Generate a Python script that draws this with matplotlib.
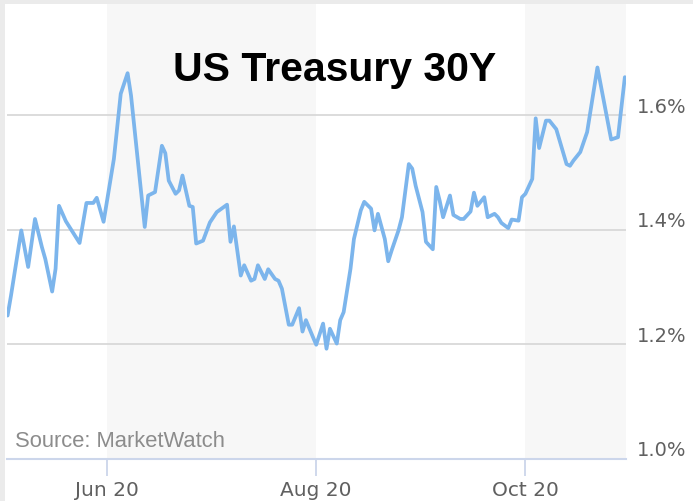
import matplotlib
matplotlib.use("Agg")
import matplotlib.pyplot as plt
import matplotlib.dates as mdates
import matplotlib.transforms as mtransforms
from matplotlib.patches import Rectangle
import pandas as pd

title = "US Treasury 30Y"
source = "Source: MarketWatch"

dates = [
    "2020-05-03", "2020-05-04", "2020-05-07", "2020-05-09", "2020-05-11", "2020-05-13",
    "2020-05-14", "2020-05-16", "2020-05-17", "2020-05-18", "2020-05-20", "2020-05-24",
    "2020-05-26", "2020-05-28", "2020-05-29", "2020-05-31", "2020-06-03", "2020-06-05",
    "2020-06-07", "2020-06-08", "2020-06-12", "2020-06-13", "2020-06-15", "2020-06-17",
    "2020-06-18", "2020-06-19", "2020-06-21", "2020-06-22", "2020-06-23", "2020-06-25",
    "2020-06-26", "2020-06-27", "2020-06-29", "2020-07-01", "2020-07-03", "2020-07-06",
    "2020-07-07", "2020-07-08", "2020-07-10", "2020-07-11", "2020-07-13", "2020-07-14",
    "2020-07-15", "2020-07-17", "2020-07-18", "2020-07-20", "2020-07-21", "2020-07-22",
    "2020-07-24", "2020-07-25", "2020-07-27", "2020-07-28", "2020-07-29", "2020-07-31",
    "2020-08-01", "2020-08-03", "2020-08-04", "2020-08-05", "2020-08-07", "2020-08-08",
    "2020-08-09", "2020-08-11", "2020-08-12", "2020-08-14", "2020-08-15", "2020-08-17",
    "2020-08-18", "2020-08-19", "2020-08-21", "2020-08-22", "2020-08-23", "2020-08-25",
    "2020-08-26", "2020-08-28", "2020-08-29", "2020-08-30", "2020-09-01", "2020-09-02",
    "2020-09-04", "2020-09-05", "2020-09-06", "2020-09-07", "2020-09-09", "2020-09-10",
    "2020-09-12", "2020-09-13", "2020-09-15", "2020-09-16", "2020-09-17", "2020-09-19",
    "2020-09-20", "2020-09-22", "2020-09-23", "2020-09-24", "2020-09-26", "2020-09-27",
    "2020-09-29", "2020-09-30", "2020-10-01", "2020-10-03", "2020-10-04", "2020-10-05",
    "2020-10-07", "2020-10-08", "2020-10-10", "2020-10-13", "2020-10-14", "2020-10-15",
    "2020-10-17", "2020-10-19", "2020-10-22", "2020-10-26", "2020-10-28", "2020-10-30",
]
yields = [
    1.250, 1.285, 1.399, 1.335, 1.419, 1.370, 1.349, 1.292, 1.332, 1.442, 1.415, 1.377,
    1.447, 1.447, 1.456, 1.414, 1.524, 1.638, 1.674, 1.635, 1.405, 1.460, 1.466, 1.547,
    1.534, 1.486, 1.463, 1.469, 1.495, 1.442, 1.440, 1.376, 1.381, 1.413, 1.431, 1.444,
    1.379, 1.406, 1.320, 1.338, 1.311, 1.314, 1.338, 1.314, 1.331, 1.314, 1.311, 1.297,
    1.234, 1.234, 1.263, 1.222, 1.242, 1.213, 1.199, 1.236, 1.192, 1.227, 1.201, 1.242,
    1.256, 1.332, 1.384, 1.434, 1.449, 1.437, 1.399, 1.428, 1.384, 1.345, 1.364, 1.399,
    1.422, 1.515, 1.507, 1.477, 1.431, 1.379, 1.366, 1.475, 1.451, 1.422, 1.460, 1.426,
    1.419, 1.419, 1.432, 1.465, 1.442, 1.457, 1.422, 1.428, 1.422, 1.412, 1.403, 1.418,
    1.416, 1.457, 1.463, 1.489, 1.595, 1.543, 1.591, 1.591, 1.576, 1.515, 1.512, 1.521,
    1.536, 1.571, 1.684, 1.558, 1.562, 1.667,
]
tick_dates = ["2020-06-01", "2020-08-01", "2020-10-01"]
tick_labels = ["Jun 20", "Aug 20", "Oct 20"]
band_ranges = [("2020-06-01", "2020-08-01"), ("2020-10-01", "2020-10-30 08:00")]
y_ticks = [1.0, 1.2, 1.4, 1.6]
y_labels = ["1.0%", "1.2%", "1.4%", "1.6%"]
x_range = ("2020-05-02 20:00", "2020-10-30 08:00")
y_range = (1.0, 1.795)

W, H = 693, 502
fig = plt.figure(figsize=(W / 100, H / 100), dpi=100)
fig.patch.set_facecolor("#ebebeb")
fig.patches.append(Rectangle((5 / W, 0), 1, (H - 5) / H, transform=fig.transFigure,
                             facecolor="white", edgecolor="none", zorder=-10))

ax = fig.add_axes([7 / W, (H - 459.5) / H, (626 - 7) / W, (459.5 - 5) / H])
ax.set_facecolor("none")

x = pd.to_datetime(dates)
for a, b in band_ranges:
    ax.axvspan(pd.Timestamp(a), pd.Timestamp(b), color="#f7f7f7", zorder=0, lw=0)

for yv in y_ticks[1:]:
    ax.axhline(yv, color="#d9d9d9", lw=1.3, zorder=1)

ax.plot(x, yields, color="#7cb5ec", lw=2.7, zorder=3, solid_joinstyle="round",
        solid_capstyle="round")

ax.set_xlim(pd.Timestamp(x_range[0]), pd.Timestamp(x_range[1]))
ax.set_ylim(*y_range)

for s in ["top", "left", "right"]:
    ax.spines[s].set_visible(False)
ax.spines["bottom"].set_color("#ccd6eb")
ax.spines["bottom"].set_linewidth(1.5)

ax.set_xticks(pd.to_datetime(tick_dates))
ax.set_xticklabels(tick_labels)
ax.tick_params(axis="x", length=12.5, width=1.3, color="#ccd6eb", pad=3,
               labelsize=14.5, labelcolor="#606060")

ax.yaxis.tick_right()
ax.set_yticks(y_ticks)
ax.set_yticklabels(y_labels)
ax.tick_params(axis="y", length=0, pad=7.5, labelsize=14, labelcolor="#606060")
off = mtransforms.ScaledTranslation(0, 11 / 100, fig.dpi_scale_trans)
for lab in ax.get_yticklabels():
    lab.set_transform(lab.get_transform() + off)

fig.text(335 / W, 1 - 70 / H, title, ha="center", va="center", fontsize=29.5,
         fontweight="bold", family="Liberation Sans", color="black")
fig.text(15 / W, 1 - 441.5 / H, source, ha="left", va="center", fontsize=15.8,
         family="Liberation Sans", color="#8c8c8c")

fig.savefig("out.png", dpi=100, facecolor=fig.get_facecolor())
